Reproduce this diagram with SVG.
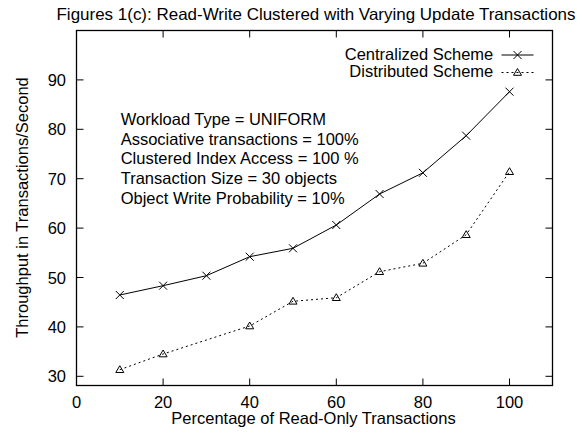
<svg xmlns="http://www.w3.org/2000/svg" xmlns:xlink="http://www.w3.org/1999/xlink" width="582" height="434" viewBox="0 0 582 434">
  <style>
    text { font-family: "Liberation Sans", Arial, sans-serif; font-size: 16.5px; fill: #000; }
    .title { font-size: 16.5px; }
    .ylab { text-anchor: end; }
    .xlab { text-anchor: middle; }
    .frame { fill: none; stroke: #000; stroke-width: 1.3; }
    .tick { stroke: #000; stroke-width: 1; fill: none; }
    .solid { fill: none; stroke: #000; stroke-width: 1; }
    .dotted { fill: none; stroke: #000; stroke-width: 1; stroke-dasharray: 2 3; }
    .mk { fill: none; stroke: #000; stroke-width: 1; }
  </style>
  <defs>
    <!-- point symbols -->
    <path id="cross" class="mk" d="M-4,-4 L4,4 M-4,4 L4,-4"/>
    <path id="tri" class="mk" d="M0,-4 L-4,2.8 L4,2.8 Z"/>
  </defs>

  <rect width="582" height="434" fill="#fff"/>

  <g id="title">
    <text class="title" x="316" y="20" text-anchor="middle" textLength="519" lengthAdjust="spacingAndGlyphs">Figures 1(c): Read-Write Clustered with Varying Update Transactions</text>
  </g>

  <g id="axes">
    <rect class="frame" x="76.5" y="30.5" width="476" height="355"/>
    <!-- y ticks, left and right -->
    <path class="tick" d="M76.5,376.3 h7 M76.5,326.9 h7 M76.5,277.5 h7 M76.5,228.1 h7 M76.5,178.7 h7 M76.5,129.3 h7 M76.5,79.9 h7
                          M552.5,376.3 h-7 M552.5,326.9 h-7 M552.5,277.5 h-7 M552.5,228.1 h-7 M552.5,178.7 h-7 M552.5,129.3 h-7 M552.5,79.9 h-7"/>
    <!-- x ticks, bottom and top -->
    <path class="tick" d="M163.1,385.5 v-7 M249.7,385.5 v-7 M336.3,385.5 v-7 M422.9,385.5 v-7 M509.5,385.5 v-7
                          M163.1,30.5 v7 M249.7,30.5 v7 M336.3,30.5 v7 M422.9,30.5 v7 M509.5,30.5 v7"/>
    <text class="ylab" x="66" y="382.3">30</text>
    <text class="ylab" x="66" y="332.9">40</text>
    <text class="ylab" x="66" y="283.5">50</text>
    <text class="ylab" x="66" y="234.1">60</text>
    <text class="ylab" x="66" y="184.7">70</text>
    <text class="ylab" x="66" y="135.3">80</text>
    <text class="ylab" x="66" y="85.9">90</text>
    <text class="xlab" x="76.5" y="408.3">0</text>
    <text class="xlab" x="163.1" y="408.3">20</text>
    <text class="xlab" x="249.7" y="408.3">40</text>
    <text class="xlab" x="336.3" y="408.3">60</text>
    <text class="xlab" x="422.9" y="408.3">80</text>
    <text class="xlab" x="509.5" y="408.3">100</text>
    <text class="xlab" x="313.5" y="424.3">Percentage of Read-Only Transactions</text>
    <text class="xlab" transform="translate(28,207.5) rotate(-90)">Throughput in Transactions/Second</text>
  </g>

  <g id="annotation">
    <text x="120.7" y="125">Workload Type = UNIFORM</text>
    <text x="120.7" y="144.7">Associative transactions = 100%</text>
    <text x="120.7" y="164.4">Clustered Index Access = 100 %</text>
    <text x="120.7" y="184.1">Transaction Size = 30 objects</text>
    <text x="120.7" y="203.8">Object Write Probability = 10%</text>
  </g>

  <g id="connectors">
    <polyline id="centralized-line" class="solid" points="119.8,295 163.1,285.7 206.4,275.7 249.7,256.7 293,248.3 336.3,225 379.6,194 422.9,172.8 466.2,135.7 509.5,91.7"/>
    <polyline id="distributed-line" class="dotted" points="119.8,369.7 163.1,354 249.7,326 293,301.3 336.3,297.7 379.6,271.7 422.9,263.3 466.2,234.7 509.5,171.7"/>
  </g>

  <g id="centralized-points">
    <use xlink:href="#cross" x="119.8" y="295"/>
    <use xlink:href="#cross" x="163.1" y="285.7"/>
    <use xlink:href="#cross" x="206.4" y="275.7"/>
    <use xlink:href="#cross" x="249.7" y="256.7"/>
    <use xlink:href="#cross" x="293" y="248.3"/>
    <use xlink:href="#cross" x="336.3" y="225"/>
    <use xlink:href="#cross" x="379.6" y="194"/>
    <use xlink:href="#cross" x="422.9" y="172.8"/>
    <use xlink:href="#cross" x="466.2" y="135.7"/>
    <use xlink:href="#cross" x="509.5" y="91.7"/>
  </g>

  <g id="distributed-points">
    <use xlink:href="#tri" x="119.8" y="369.7"/>
    <use xlink:href="#tri" x="163.1" y="354"/>
    <use xlink:href="#tri" x="249.7" y="326"/>
    <use xlink:href="#tri" x="293" y="301.3"/>
    <use xlink:href="#tri" x="336.3" y="297.7"/>
    <use xlink:href="#tri" x="379.6" y="271.7"/>
    <use xlink:href="#tri" x="422.9" y="263.3"/>
    <use xlink:href="#tri" x="466.2" y="234.7"/>
    <use xlink:href="#tri" x="509.5" y="171.7"/>
  </g>

  <g id="legend">
    <text class="ylab" x="493.3" y="59.5">Centralized Scheme</text>
    <path class="solid" d="M501.5,55 H533.5"/>
    <use xlink:href="#cross" x="517.5" y="55"/>
    <text class="ylab" x="493.3" y="77">Distributed Scheme</text>
    <path class="dotted" d="M501.5,72.5 H533.5"/>
    <use xlink:href="#tri" x="517.5" y="72.5"/>
  </g>
</svg>
